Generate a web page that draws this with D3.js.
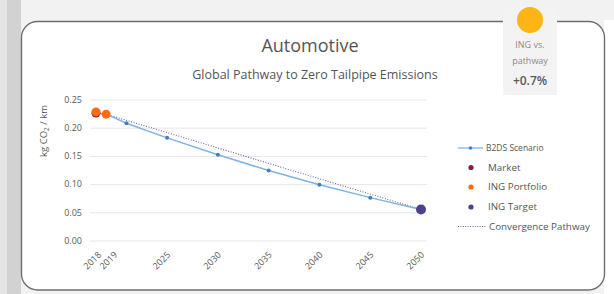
<!DOCTYPE html>
<html><head><meta charset="utf-8">
<script src="https://cdn.jsdelivr.net/npm/d3@7"></script>
<style>html,body{margin:0;padding:0;background:#fff;}svg{display:block;font-family:"Open Sans",sans-serif;}</style>
</head><body><svg id="c" width="614" height="294"></svg>
<script>
const xTickYears = [2018, 2019, 2025, 2030, 2035, 2040, 2045, 2050];
const yTicks = [0, 0.05, 0.10, 0.15, 0.20, 0.25];
const b2dsYears = [2018, 2019, 2021, 2025, 2030, 2035, 2040, 2045, 2050];
const b2dsValues = [0.226, 0.224, 0.208, 0.182, 0.152, 0.124, 0.099, 0.076, 0.055];
const marketYears = [2018];
const marketValues = [0.226];
const portfolioYears = [2018, 2019];
const portfolioValues = [0.228, 0.224];
const targetYears = [2050];
const targetValues = [0.055];
const convYears = [2019, 2050];
const convValues = [0.224, 0.055];
const legendLabels = ["B2DS Scenario", "Market", "ING Portfolio", "ING Target", "Convergence Pathway"];
const badgeLines = ["ING vs.", "pathway"];
const badgeValue = "+0.7%";

const svg = d3.select("#c");
// page background
svg.append("rect").attr("x",0).attr("y",0).attr("width",614).attr("height",294).attr("fill","#f2f2f2");
svg.append("rect").attr("x",0).attr("y",0).attr("width",7).attr("height",294).attr("fill","#e4e4e4");
svg.append("rect").attr("x",7).attr("y",0).attr("width",14).attr("height",294).attr("fill","#d2d2d2");
svg.append("rect").attr("x",604).attr("y",20).attr("width",10).attr("height",274).attr("fill","#fff");
// card
svg.append("rect").attr("x",21.5).attr("y",21.5).attr("width",583).attr("height",268.5).attr("rx",16)
  .attr("fill","#fff").attr("stroke","#6e6e6e").attr("stroke-width",1.4);

// badge
svg.append("rect").attr("x",503).attr("y",8).attr("width",54).attr("height",87).attr("fill","#f3f3f3");
svg.append("circle").attr("cx",530).attr("cy",20).attr("r",13).attr("fill","#FDB515");
badgeLines.forEach((t,i)=>svg.append("text").attr("x",530).attr("y",48+i*16).attr("text-anchor","middle")
  .attr("font-size",9).attr("fill","#8a8a8a").text(t));
svg.append("text").attr("x",530).attr("y",85).attr("text-anchor","middle").attr("font-size",12)
  .attr("font-weight",600).attr("fill","#5a5a5a").text(badgeValue);

// titles
svg.append("text").attr("x",310).attr("y",52).attr("text-anchor","middle").attr("font-size",18)
  .attr("fill","#555").text("Automotive");
svg.append("text").attr("x",315).attr("y",79).attr("text-anchor","middle").attr("font-size",12.5)
  .attr("fill","#555").text("Global Pathway to Zero Tailpipe Emissions");

const x = d3.scaleLinear().domain([2018, 2050]).range([96, 421]);
const y = d3.scaleLinear().domain([0, 0.25]).range([240.5, 99.5]);

// gridlines
const grid = svg.append("g").attr("transform","translate(90,0)")
  .call(d3.axisLeft(y).tickValues(yTicks).tickSize(-337).tickFormat(""));
grid.select(".domain").remove();
grid.selectAll("line").attr("stroke","#e6e6e6").attr("stroke-width",1);

// y labels
const ya = svg.append("g").attr("transform","translate(82,0)")
  .call(d3.axisLeft(y).tickValues(yTicks).tickSize(0).tickPadding(0).tickFormat(d3.format(".2f")));
ya.select(".domain").remove();
ya.selectAll("text").attr("font-size",9).attr("fill","#595959").attr("font-family","'Open Sans',sans-serif");

// x labels (second label nudged right to avoid overlap, as in the source)
const xa = svg.append("g").attr("transform","translate(0,246)")
  .call(d3.axisBottom(x).tickValues(xTickYears).tickSize(0).tickFormat(d3.format("d")));
xa.select(".domain").remove();
xa.selectAll("text").attr("font-size",9).attr("fill","#595959").attr("font-family","'Open Sans',sans-serif")
  .attr("text-anchor","end").attr("dy","0.35em")
  .attr("transform",(d,i)=>`translate(${i===1?7:(i===0?1:-1)},5) rotate(-45)`);

// y title
svg.append("text").attr("transform","translate(47,131) rotate(-90)").attr("text-anchor","middle")
  .attr("font-size",9.5).attr("fill","#595959")
  .html('kg CO<tspan font-size="6.5" dy="2">2</tspan><tspan dy="-2"> / km</tspan>');

// convergence pathway
const conv = convYears.map((d,i)=>[d, convValues[i]]);
svg.append("path").datum(conv).attr("fill","none").attr("stroke","#6b64a8").attr("stroke-width",1.1)
  .attr("stroke-dasharray","1,1.6").attr("d", d3.line().x(d=>x(d[0])).y(d=>y(d[1])));

// b2ds
const b2 = b2dsYears.map((d,i)=>[d, b2dsValues[i]]);
svg.append("path").datum(b2).attr("fill","none").attr("stroke","#7fb3e0").attr("stroke-width",1.5)
  .attr("d", d3.line().x(d=>x(d[0])).y(d=>y(d[1])));
svg.selectAll(".b2m").data(b2.slice(2)).enter().append("circle").attr("cx",d=>x(d[0])).attr("cy",d=>y(d[1]))
  .attr("r",2).attr("fill","#3f7fbf");

// market
svg.selectAll(".mk").data(marketYears.map((d,i)=>[d,marketValues[i]])).enter().append("circle")
  .attr("cx",d=>x(d[0])).attr("cy",d=>y(d[1])).attr("r",4.5).attr("fill","#8c1a4b");
// portfolio
svg.selectAll(".pf").data(portfolioYears.map((d,i)=>[d,portfolioValues[i]])).enter().append("circle")
  .attr("cx",d=>x(d[0])).attr("cy",d=>y(d[1])).attr("r",4.5).attr("fill","#ff6a13");
// target
svg.selectAll(".tg").data(targetYears.map((d,i)=>[d,targetValues[i]])).enter().append("circle")
  .attr("cx",d=>x(d[0])).attr("cy",d=>y(d[1])).attr("r",5).attr("fill","#4a428e");

// legend
const lg = svg.append("g");
const ly = [148, 167.5, 187, 207, 226.5];
lg.append("line").attr("x1",458).attr("x2",483).attr("y1",ly[0]).attr("y2",ly[0]).attr("stroke","#7fb3e0").attr("stroke-width",1.3);
lg.append("circle").attr("cx",470.5).attr("cy",ly[0]).attr("r",1.8).attr("fill","#3f7fbf");
const dotCols = ["#8c1a4b","#ff6a13","#4a428e"];
dotCols.forEach((c,i)=>lg.append("circle").attr("cx",471).attr("cy",ly[i+1]).attr("r",2.6).attr("fill",c));
lg.append("line").attr("x1",458).attr("x2",486).attr("y1",ly[4]).attr("y2",ly[4]).attr("stroke","#6b64a8")
  .attr("stroke-width",1.1).attr("stroke-dasharray","1,1.4");
const lx = [486, 488, 488, 488, 489];
legendLabels.forEach((t,i)=>lg.append("text").attr("x",lx[i]).attr("y",ly[i]).attr("dy","0.35em")
  .attr("font-size",i===0?8.5:9.8).attr("fill","#555").text(t));
</script></body></html>
